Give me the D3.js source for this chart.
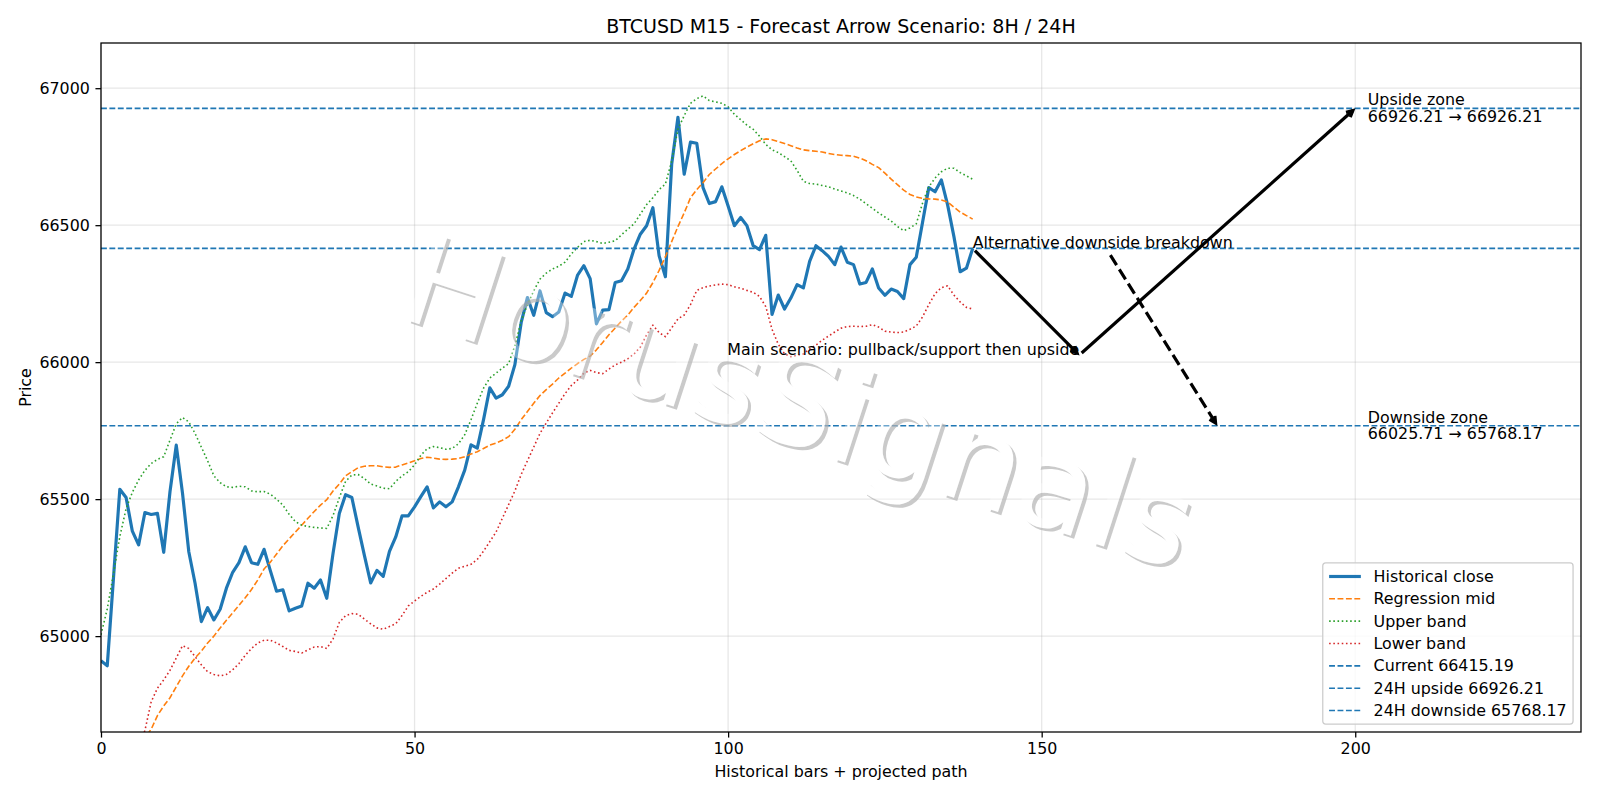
<!DOCTYPE html>
<html>
<head>
<meta charset="utf-8">
<script src="https://cdn.jsdelivr.net/npm/d3@7"></script>
<style>
  body { margin: 0; background: #fff; }
  svg text { font-family: "DejaVu Sans", sans-serif; }
</style>
</head>
<body>
<svg id="chart" width="1600" height="800"></svg>
<script>
// values, one per bar (0..139)
const closeValues = [
  64910, 64892, 65215, 65536, 65506, 65383, 65333, 65451, 65444, 65448,
  65306, 65527, 65697, 65521, 65308, 65193, 65053, 65104, 65059, 65098,
  65175, 65233, 65268, 65326, 65268, 65262, 65317, 65239, 65164, 65169,
  65092, 65102, 65110, 65193, 65175, 65205, 65138, 65302, 65448, 65516,
  65506, 65399, 65295, 65194, 65240, 65218, 65309, 65362, 65439, 65439,
  65472, 65509, 65545, 65468, 65490, 65472, 65490, 65545, 65606, 65698,
  65686, 65790, 65906, 65869, 65881, 65912, 65991, 66144, 66236, 66171,
  66260, 66181, 66166, 66183, 66252, 66240, 66318, 66352, 66305, 66140,
  66190, 66192, 66291, 66297, 66340, 66413, 66467, 66498, 66564, 66388,
  66312, 66722, 66894, 66686, 66803, 66799, 66637, 66579, 66586, 66640,
  66570, 66498, 66528, 66498, 66425, 66411, 66463, 66174, 66245, 66194,
  66234, 66283, 66271, 66368, 66425, 66407, 66386, 66356, 66420, 66365,
  66356, 66285, 66291, 66340, 66271, 66244, 66267, 66258, 66232, 66356,
  66383, 66510, 66637, 66622, 66665, 66574, 66459, 66330, 66343, 66415.19
];

const midValues = [
  64420, 64450, 64480, 64510, 64540, 64570, 64600, 64630, 64660, 64710,
  64745, 64775, 64815, 64855, 64890, 64920, 64945, 64975, 65000, 65030,
  65058, 65085, 65112, 65140, 65170, 65205, 65245, 65270, 65300, 65330,
  65355, 65380, 65405, 65430, 65455, 65478, 65498, 65530, 65555, 65585,
  65600, 65615, 65620, 65622, 65622, 65618, 65616, 65617, 65625, 65632,
  65640, 65648, 65653, 65650, 65646, 65645, 65646, 65648, 65655, 65665,
  65673, 65685, 65697, 65705, 65715, 65728, 65755, 65790, 65820, 65850,
  65878, 65900, 65920, 65942, 65960, 65978, 65995, 66010, 66022, 66045,
  66072, 66100, 66125, 66150, 66172, 66200, 66225, 66252, 66290, 66335,
  66385, 66440, 66495, 66545, 66600, 66630, 66655, 66685, 66705, 66725,
  66742, 66758, 66772, 66785, 66797, 66808, 66815, 66812, 66805, 66798,
  66790, 66782, 66775, 66772, 66770, 66767, 66762, 66758, 66755, 66754,
  66752, 66745, 66735, 66722, 66710, 66690, 66668, 66648, 66628, 66612,
  66603, 66598, 66596, 66595, 66592, 66585, 66566, 66548, 66535, 66522
];

const upperValues = [
  65005, 65100, 65229, 65363, 65465, 65525, 65570, 65605, 65630, 65645,
  65655, 65715, 65775, 65798, 65782, 65740, 65690, 65640, 65585, 65560,
  65545, 65543, 65547, 65545, 65530, 65527, 65528, 65518, 65500, 65478,
  65445, 65418, 65405, 65400, 65397, 65395, 65393, 65440, 65505, 65565,
  65588, 65590, 65575, 65555, 65548, 65540, 65538, 65565, 65585, 65600,
  65625, 65660, 65684, 65692, 65688, 65682, 65685, 65702, 65735, 65790,
  65850, 65905, 65942, 65960, 65978, 65995, 66060, 66150, 66210, 66260,
  66303, 66325, 66340, 66350, 66365, 66395, 66419, 66440, 66445, 66440,
  66433, 66438, 66443, 66465, 66485, 66505, 66540, 66575, 66600, 66630,
  66650, 66734, 66850, 66900, 66945, 66962, 66972, 66955, 66950, 66945,
  66932, 66905, 66885, 66865, 66850, 66825, 66795, 66775, 66765, 66750,
  66735, 66700, 66660, 66652, 66650, 66645, 66640, 66632, 66625, 66618,
  66608, 66595, 66578, 66562, 66545, 66530, 66515, 66495, 66480, 66490,
  66505, 66580, 66640, 66672, 66695, 66708, 66708, 66692, 66680, 66668
];

const lowerValues = [
  64300, 64350, 64400, 64450, 64500, 64560, 64610, 64655, 64760, 64810,
  64840, 64875, 64920, 64965, 64955, 64925, 64895, 64870, 64860, 64855,
  64860, 64877, 64900, 64930, 64955, 64975, 64985, 64985, 64975, 64962,
  64948, 64944, 64938, 64950, 64960, 64962, 64955, 64990, 65050, 65075,
  65082, 65080, 65062, 65045, 65030, 65025, 65035, 65045, 65075, 65110,
  65128, 65145, 65160, 65172, 65190, 65210, 65230, 65248, 65255, 65262,
  65280, 65310, 65345, 65380, 65430, 65480, 65530, 65590, 65640, 65690,
  65740, 65778, 65815, 65850, 65885, 65915, 65935, 65960, 65970, 65962,
  65958, 65975, 65990, 66000, 66012, 66030, 66055, 66100, 66135, 66108,
  66093, 66125, 66158, 66172, 66210, 66262, 66272, 66278, 66282, 66285,
  66283, 66275, 66270, 66262, 66255, 66240, 66203, 66120, 66065, 66030,
  66020, 66025, 66030, 66048, 66062, 66080, 66095, 66110, 66124, 66130,
  66131, 66130, 66131, 66137, 66128, 66113, 66110, 66108, 66110, 66120,
  66132, 66165, 66210, 66250, 66272, 66279, 66245, 66220, 66200, 66194
];

const levelCurrent = 66415.19;
const levelUpside = 66926.21;
const levelDownside = 65768.17;
const pullbackLevel = 66025.71;

// projected path: now -> pullback -> upside, and the alternative breakdown
const pathX = [139, 156, 200];
const altX = 178;
const zoneTextX = 202;

const xTicks = [0, 50, 100, 150, 200];
const yTicks = [65000, 65500, 66000, 66500, 67000];

const PT = 114.3 / 72; // px per point
const FS = 10 * PT;

const svg = d3.select('#chart');
const axL = 101, axR = 1581, axT = 43, axB = 732;

const x = d3.scaleLinear().domain([0, 236]).range([axL, axR]);
const y = d3.scaleLinear().domain([64650, 67165]).range([axB, axT]);

const defs = svg.append('defs');
defs.append('clipPath').attr('id', 'plot')
  .append('rect').attr('x', axL).attr('y', axT)
  .attr('width', axR - axL).attr('height', axB - axT);

// grid
const grid = svg.append('g').attr('stroke', '#b0b0b0').attr('stroke-opacity', 0.3)
  .attr('stroke-width', 0.8 * PT);
grid.selectAll('.gx').data(xTicks).join('line')
  .attr('x1', d => x(d)).attr('x2', d => x(d)).attr('y1', axT).attr('y2', axB);
grid.selectAll('.gy').data(yTicks).join('line')
  .attr('x1', axL).attr('x2', axR).attr('y1', d => y(d)).attr('y2', d => y(d));

const plot = svg.append('g').attr('clip-path', 'url(#plot)');
const line = d3.line().x((d, i) => x(i)).y(d => y(d));

const series = [
  { values: closeValues, color: '#1f77b4', width: 2 * PT, dash: null },
  { values: midValues, color: '#ff7f0e', width: PT, dash: [3.7 * PT, 1.6 * PT] },
  { values: upperValues, color: '#2ca02c', width: PT, dash: [PT, 1.65 * PT] },
  { values: lowerValues, color: '#d62728', width: PT, dash: [PT, 1.65 * PT] }
];
series.forEach(s => {
  plot.append('path').datum(s.values)
    .attr('d', line)
    .attr('fill', 'none')
    .attr('stroke', s.color)
    .attr('stroke-width', s.width)
    .attr('stroke-linejoin', 'round')
    .attr('stroke-dasharray', s.dash ? s.dash.join(',') : null);
});

// horizontal levels
[levelCurrent, levelUpside, levelDownside].forEach(v => {
  plot.append('line')
    .attr('x1', axL).attr('x2', axR)
    .attr('y1', y(v)).attr('y2', y(v))
    .attr('stroke', '#1f77b4').attr('stroke-width', PT)
    .attr('stroke-dasharray', [3.7 * PT, 1.6 * PT].join(','));
});

// watermark: white text with a grey drop shadow peeking out lower-right
const wmX = 800, wmY = 402, wmSize = 126, wmAngle = 18;
const mask = defs.append('mask').attr('id', 'wmMask')
  .attr('maskUnits', 'userSpaceOnUse').attr('x', 0).attr('y', 0).attr('width', 1600).attr('height', 800);
mask.append('rect').attr('width', 1600).attr('height', 800).attr('fill', '#fff');
mask.append('text')
  .attr('transform', `translate(${wmX},${wmY}) rotate(${wmAngle})`)
  .attr('text-anchor', 'middle').attr('dominant-baseline', 'central')
  .attr('font-size', wmSize).attr('fill', '#000')
  .text('HorusSignals');
const wm = svg.append('g');
wm.append('g').attr('mask', 'url(#wmMask)')
  .append('text')
  .attr('transform', `translate(${wmX + 3.2},${wmY + 3.2}) rotate(${wmAngle})`)
  .attr('text-anchor', 'middle').attr('dominant-baseline', 'central')
  .attr('font-size', wmSize).attr('fill', '#b4b4b4').attr('fill-opacity', 0.7)
  .text('HorusSignals');
wm.append('text')
  .attr('transform', `translate(${wmX},${wmY}) rotate(${wmAngle})`)
  .attr('text-anchor', 'middle').attr('dominant-baseline', 'central')
  .attr('font-size', wmSize).attr('fill', '#fff').attr('fill-opacity', 0.35)
  .text('HorusSignals');

// axes
function styleAxis(g) {
  g.select('.domain').remove();
  g.attr('font-family', null).attr('font-size', null);
  g.selectAll('.tick line').attr('stroke', '#000').attr('stroke-width', 0.8 * PT);
  g.selectAll('.tick text').attr('fill', '#000').attr('font-size', FS);
}
svg.append('g').attr('transform', `translate(0,${axB})`)
  .call(d3.axisBottom(x).tickValues(xTicks).tickFormat(d3.format('d'))
    .tickSize(3.5 * PT).tickPadding(3.5 * PT))
  .call(styleAxis);
svg.append('g').attr('transform', `translate(${axL},0)`)
  .call(d3.axisLeft(y).tickValues(yTicks).tickFormat(d3.format('d'))
    .tickSize(3.5 * PT).tickPadding(3.5 * PT))
  .call(styleAxis);

svg.append('rect')
  .attr('x', axL).attr('y', axT).attr('width', axR - axL).attr('height', axB - axT)
  .attr('fill', 'none').attr('stroke', '#000').attr('stroke-width', 0.8 * PT);

// labels
svg.append('text').attr('x', (axL + axR) / 2).attr('y', 25.5)
  .attr('text-anchor', 'middle').attr('dominant-baseline', 'central')
  .attr('font-size', 12 * PT)
  .text('BTCUSD M15 - Forecast Arrow Scenario: 8H / 24H');
svg.append('text').attr('x', (axL + axR) / 2).attr('y', 771)
  .attr('text-anchor', 'middle').attr('dominant-baseline', 'central')
  .attr('font-size', FS)
  .text('Historical bars + projected path');
svg.append('text').attr('transform', `translate(25.5,${(axT + axB) / 2}) rotate(-90)`)
  .attr('text-anchor', 'middle').attr('dominant-baseline', 'central')
  .attr('font-size', FS)
  .text('Price');

// arrows
function arrow(p0, p1, dashed) {
  const shrink = 2 * PT;
  const dx = p1[0] - p0[0], dy = p1[1] - p0[1];
  const len = Math.hypot(dx, dy);
  const ux = dx / len, uy = dy / len;
  const s = [p0[0] + ux * shrink, p0[1] + uy * shrink];
  const e = [p1[0] - ux * shrink, p1[1] - uy * shrink];
  const g = svg.append('g').attr('stroke', '#000').attr('stroke-width', 2 * PT)
    .attr('fill', 'none');
  g.append('line').attr('x1', s[0]).attr('y1', s[1]).attr('x2', e[0]).attr('y2', e[1])
    .attr('stroke-dasharray', dashed ? [7.4 * PT, 3.2 * PT].join(',') : null);
  const hl = 4 * PT, hw = 2 * PT;
  const b = [e[0] - ux * hl, e[1] - uy * hl];
  g.append('path')
    .attr('d', `M${b[0] - uy * hw},${b[1] + ux * hw}L${e[0]},${e[1]}L${b[0] + uy * hw},${b[1] - ux * hw}`)
    .attr('stroke-linejoin', 'miter');
}

const pts = [
  [x(pathX[0]), y(levelCurrent)],
  [x(pathX[1]), y(pullbackLevel)],
  [x(pathX[2]), y(levelUpside)]
];
arrow(pts[0], pts[1], false);
arrow(pts[1], pts[2], false);

svg.append('text').attr('x', x(pathX[1])).attr('y', y(pullbackLevel))
  .attr('text-anchor', 'end').attr('font-size', FS)
  .text('Main scenario: pullback/support then upside');

const altText = svg.append('text').attr('x', x(pathX[0])).attr('y', y(levelCurrent))
  .attr('font-size', FS)
  .text('Alternative downside breakdown');
const bb = altText.node().getBBox();
{
  const cx = bb.x + bb.width / 2, cy = bb.y + bb.height / 2;
  const tx = x(altX), ty = y(levelDownside);
  const dx = tx - cx, dy = ty - cy;
  const t = Math.min((bb.width / 2) / Math.abs(dx), (bb.height / 2) / Math.abs(dy));
  arrow([cx + dx * t, cy + dy * t], [tx, ty], true);
}

function zoneText(v, lines) {
  const t = svg.append('text').attr('font-size', FS);
  t.append('tspan').attr('x', x(zoneTextX)).attr('y', y(v) - 3).text(lines[0]);
  t.append('tspan').attr('x', x(zoneTextX)).attr('y', y(v) + 13.5).text(lines[1]);
}
zoneText(levelUpside, ['Upside zone', `${levelUpside.toFixed(2)} \u2192 ${levelUpside.toFixed(2)}`]);
zoneText(levelDownside, ['Downside zone', `${pullbackLevel.toFixed(2)} \u2192 ${levelDownside.toFixed(2)}`]);

// legend
const legendItems = [
  { label: 'Historical close', color: '#1f77b4', width: 2 * PT, dash: null },
  { label: 'Regression mid', color: '#ff7f0e', width: PT, dash: [3.7 * PT, 1.6 * PT] },
  { label: 'Upper band', color: '#2ca02c', width: PT, dash: [PT, 1.65 * PT] },
  { label: 'Lower band', color: '#d62728', width: PT, dash: [PT, 1.65 * PT] },
  { label: `Current ${levelCurrent.toFixed(2)}`, color: '#1f77b4', width: PT, dash: [3.7 * PT, 1.6 * PT] },
  { label: `24H upside ${levelUpside.toFixed(2)}`, color: '#1f77b4', width: PT, dash: [3.7 * PT, 1.6 * PT] },
  { label: `24H downside ${levelDownside.toFixed(2)}`, color: '#1f77b4', width: PT, dash: [3.7 * PT, 1.6 * PT] }
];
const pad = 0.4 * FS, rowH = 14.4, rowGap = 0.5 * FS;
const handleLen = 2 * FS, handlePad = 0.8 * FS;
const legend = svg.append('g');
const frame = legend.append('rect');
const rows = legend.selectAll('g.row').data(legendItems).join('g')
  .attr('transform', (d, i) => `translate(0,${pad + rowH / 2 + i * (rowH + rowGap)})`);
rows.append('line').attr('x1', pad).attr('x2', pad + handleLen).attr('y1', 0).attr('y2', 0)
  .attr('stroke', d => d.color).attr('stroke-width', d => d.width)
  .attr('stroke-dasharray', d => d.dash ? d.dash.join(',') : null);
rows.append('text').attr('x', pad + handleLen + handlePad).attr('y', 0)
  .attr('dominant-baseline', 'central').attr('font-size', FS)
  .text(d => d.label);
let textW = 0;
rows.selectAll('text').each(function() { textW = Math.max(textW, this.getComputedTextLength()); });
const lw = pad * 2 + handleLen + handlePad + textW;
const lh = pad * 2 + legendItems.length * rowH + (legendItems.length - 1) * rowGap;
frame.attr('width', lw).attr('height', lh).attr('rx', 3).attr('ry', 3)
  .attr('fill', '#fff').attr('fill-opacity', 0.8)
  .attr('stroke', '#cccccc').attr('stroke-width', 0.8 * PT);
legend.attr('transform', `translate(${axR - 0.5 * FS - lw},${axB - 0.5 * FS - lh})`);
</script>
</body>
</html>
